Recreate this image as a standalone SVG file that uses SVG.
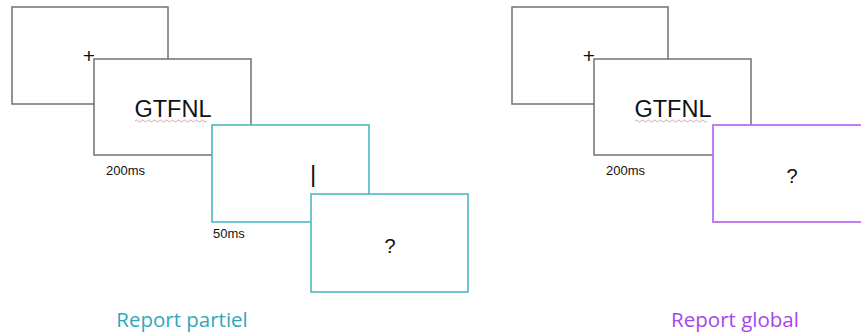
<svg xmlns="http://www.w3.org/2000/svg" width="861" height="336" viewBox="0 0 861 336">
<defs>
<style>
.g{fill:#fff;stroke:#727272;stroke-width:1.5}
.t{fill:#fff;stroke:#4db8c4;stroke-width:1.6}
.p{fill:#fff;stroke:#b55cf0;stroke-width:1.6}
.txt{font-family:"Liberation Sans",Arial,sans-serif;fill:#111}
.wave{fill:none;stroke:#f08080;stroke-width:0.8}
.lab{font-family:"Open Sans","DejaVu Sans",sans-serif;font-size:20.5px}
</style>
<path id="wv" d="M0,0 q1.5,-2 3,0 t3,0 t3,0 t3,0 t3,0 t3,0 t3,0 t3,0 t3,0 t3,0 t3,0 t3,0 t3,0 t3,0 t3,0 t3,0 t3,0 t3,0 t3,0 t3,0 t3,0 t3,0 t3,0 t3,0" class="wave"/>
</defs>
<g id="partiel">
<g id="fix1"><rect class="g" x="12" y="7" width="156" height="97"/><text class="txt" x="89" y="63" font-size="21" text-anchor="middle">+</text></g>
<g id="stim1"><rect class="g" x="94" y="59" width="157" height="96"/><text class="txt" x="173" y="117" font-size="23.5" text-anchor="middle">GTFNL</text><use href="#wv" x="135" y="121"/><text class="txt" x="106" y="175" font-size="13">200ms</text></g>
<g id="cue1"><rect class="t" x="212" y="125" width="157" height="97"/><text class="txt" x="313" y="182" font-size="24" text-anchor="middle">|</text><text class="txt" x="213" y="238" font-size="13">50ms</text></g>
<g id="resp1"><rect class="t" x="311" y="194" width="157" height="98"/><text class="txt" x="390" y="253" font-size="20" text-anchor="middle">?</text></g>
<text class="lab" x="182" y="327" fill="#2ea9ba" text-anchor="middle">Report partiel</text>
</g>
<g id="global">
<g id="fix2"><rect class="g" x="512" y="7" width="156" height="97"/><text class="txt" x="589" y="63" font-size="21" text-anchor="middle">+</text></g>
<g id="stim2"><rect class="g" x="594" y="59" width="157" height="96"/><text class="txt" x="673" y="117" font-size="23.5" text-anchor="middle">GTFNL</text><use href="#wv" x="635" y="121"/><text class="txt" x="606" y="175" font-size="13">200ms</text></g>
<g id="resp2"><rect class="p" x="713" y="125" width="160" height="97"/><text class="txt" x="792" y="183" font-size="20" text-anchor="middle">?</text></g>
<text class="lab" x="735" y="327" fill="#a844ee" text-anchor="middle">Report global</text>
</g>
<g id="connectors"/>
</svg>
